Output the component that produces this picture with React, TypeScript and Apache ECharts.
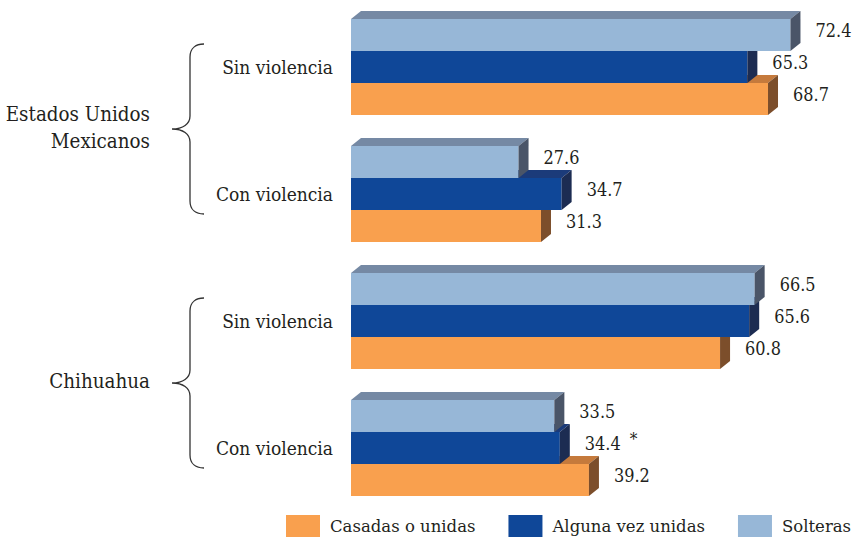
import React, { useEffect, useRef } from "react";
import * as echarts from "echarts";

const categories = ["Sin violencia", "Con violencia", "Sin violencia", "Con violencia"];
const regions = ["Estados Unidos\nMexicanos", "Chihuahua"];
const seriesNames = ["Casadas o unidas", "Alguna vez unidas", "Solteras"];
const casadas = [68.7, 31.3, 60.8, 39.2];
const alguna = [65.3, 34.7, 65.6, 34.4];
const solteras = [72.4, 27.6, 66.5, 33.5];
const algunaNotes = ["", "", "", "*"];

const FONT = "DejaVu Serif";
const TEXT = "#231f20";

const braceD =
  "M 32 -85 C 24 -85 18 -81 18 -72 L 18 -13 C 18 -5 11 0 0 0 C 11 0 18 5 18 13 L 18 72 C 18 81 24 85 32 85";
echarts.graphic.registerShape("brace", echarts.graphic.extendPath(braceD, {}));

const palettes = [
  { front: "#f9a04e", top: "#c57a3c", side: "#7c4e2b" },
  { front: "#0f4798", top: "#1b3b7a", side: "#1c2c52" },
  { front: "#97b7d7", top: "#7589a4", side: "#4a5568" },
];

function makeRender(pal: any, offset: number, notes: string[] | null) {
  return (params: any, api: any) => {
    const value = api.value(0);
    const cat = api.value(1);
    const base = api.coord([0, cat]);
    const end = api.coord([value, cat]);
    const band = api.size([0, 1])[1];
    const h = (band * 32) / 127;
    const dx = 10;
    const dy = 8;
    const cy = base[1] + offset * h;
    const y0 = cy - h / 2;
    const x0 = base[0];
    const x1 = end[0];
    const children: any[] = [
      { type: "rect", shape: { x: x0, y: y0, width: x1 - x0, height: h }, style: { fill: pal.front } },
      {
        type: "polygon",
        shape: { points: [[x0, y0], [x0 + dx, y0 - dy], [x1 + dx, y0 - dy], [x1, y0]] },
        style: { fill: pal.top },
      },
      {
        type: "polygon",
        shape: { points: [[x1, y0], [x1 + dx, y0 - dy], [x1 + dx, y0 + h - dy], [x1, y0 + h]] },
        style: { fill: pal.side },
      },
      {
        type: "text",
        x: x1 + 25,
        y: cy - 4,
        scaleX: 0.85,
        style: {
          text: value.toFixed(1),
          fill: TEXT,
          fontSize: 19,
          fontFamily: FONT,
          textAlign: "left",
          textVerticalAlign: "middle",
        },
      },
    ];
    const note = notes ? notes[params.dataIndex] : "";
    if (note) {
      children.push({
        type: "text",
        x: x1 + 70,
        y: cy - 9,
        scaleX: 0.9,
        style: {
          text: note,
          fill: TEXT,
          fontSize: 17,
          fontFamily: FONT,
          textAlign: "left",
          textVerticalAlign: "middle",
        },
      });
    }
    return { type: "group", children };
  };
}

export default function App() {
  const ref = useRef<HTMLDivElement>(null);
  useEffect(() => {
    if (!ref.current) return;
    const chart = echarts.init(ref.current, null, { renderer: "svg" });
    const seriesData = [casadas, alguna, solteras];
    const offsets = [1, 0, -1];
    const notesList = [null, algunaNotes, null];
    chart.setOption({
      animation: false,
      backgroundColor: "#ffffff",
      grid: { left: 351, top: 3.5, height: 508, width: 485.6 },
      xAxis: { type: "value", min: 0, max: 80, show: false },
      yAxis: {
        type: "category",
        inverse: true,
        data: categories,
        axisLine: { show: false },
        axisTick: { show: false },
        splitLine: { show: false },
        axisLabel: { show: false },
      },
      legend: {
        left: 286,
        top: 515,
        width: 600,
        padding: 0,
        itemWidth: 34,
        itemHeight: 22,
        itemGap: 33,
        icon: "rect",
        data: seriesNames,
        textStyle: { fontSize: 16.5, fontFamily: FONT, color: TEXT, padding: [0, 0, 0, 5] },
      },
      series: seriesNames.map((name, i) => ({
        type: "custom",
        name,
        z: 2 + i,
        itemStyle: { color: palettes[i].front },
        encode: { x: 0, y: 1 },
        data: seriesData[i].map((v, j) => [v, j]),
        renderItem: makeRender(palettes[i], offsets[i], notesList[i]),
      })),
    });
    const graphics: any[] = [];
    categories.forEach((c, i) => {
      const p = chart.convertToPixel({ gridIndex: 0 }, [0, i]) as number[];
      graphics.push({
        type: "text",
        x: p[0] - 18,
        y: p[1],
        scaleX: 0.9,
        style: {
          text: c,
          fontSize: 19,
          fontFamily: FONT,
          fill: TEXT,
          textAlign: "right",
          textVerticalAlign: "middle",
        },
      });
    });
    regions.forEach((r, k) => {
      const a = chart.convertToPixel({ gridIndex: 0 }, [0, 2 * k]) as number[];
      const b = chart.convertToPixel({ gridIndex: 0 }, [0, 2 * k + 1]) as number[];
      const mid = (a[1] + b[1]) / 2 - 1.5;
      graphics.push({
        type: "brace",
        x: 172,
        y: mid,
        style: { stroke: "#333333", fill: "none", lineWidth: 1.3 },
      });
      graphics.push({
        type: "text",
        x: 150,
        y: mid - 2,
        scaleX: 0.94,
        style: {
          text: r,
          fontSize: 19.5,
          fontFamily: FONT,
          fill: TEXT,
          textAlign: "right",
          textVerticalAlign: "middle",
          lineHeight: 27,
        },
      });
    });
    chart.setOption({ graphic: graphics });
    return () => chart.dispose();
  }, []);
  return (
    <div
      ref={ref}
      style={{ position: "fixed", left: 0, top: 0, width: 854, height: 540, background: "#fff" }}
    />
  );
}
